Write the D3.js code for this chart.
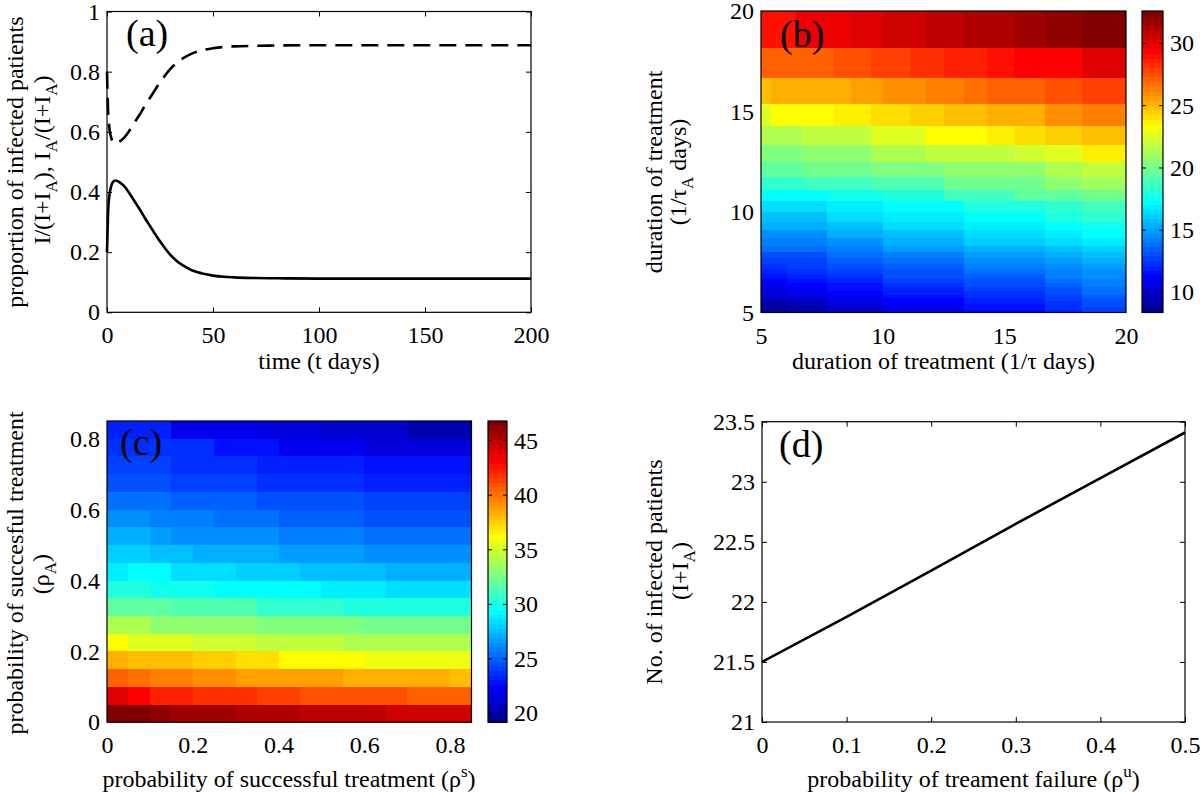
<!DOCTYPE html>
<html><head><meta charset="utf-8">
<script src="https://cdn.jsdelivr.net/npm/d3@7"></script>
<style>
body{margin:0;background:#fff}
svg{display:block}
text{font-family:"Liberation Serif","Times New Roman",serif;fill:#000}
</style>
</head><body>
<svg id="chart" width="1200" height="795"></svg>
<script>
// ---------------- DATA ----------------
// (a) proportion of infected patients over time
const timeDays = [0,0.5,1,2,3,4,5,6,8,10,12,14,16,18,20,22,24,26,28,30,33,36,40,45,50,55,60,70,80,100,150,200];
const propI    = [0.20,0.33,0.38,0.42,0.435,0.438,0.436,0.432,0.42,0.402,0.38,0.358,0.336,0.312,0.29,0.268,0.246,0.226,0.207,0.19,0.17,0.155,0.14,0.129,0.122,0.118,0.116,0.114,0.113,0.112,0.112,0.112];
const propIA   = [0.80,0.67,0.62,0.58,0.565,0.562,0.564,0.568,0.58,0.598,0.62,0.642,0.664,0.688,0.71,0.732,0.754,0.774,0.793,0.81,0.83,0.845,0.86,0.871,0.878,0.882,0.884,0.886,0.887,0.888,0.888,0.888];
const aXTicks = [0,50,100,150,200];
const aYTicks = [0,0.2,0.4,0.6,0.8,1];

// (b) grid nodes of tau and tau_A (rates); axes show 1/tau
const tauNodes = [0.05,0.055,0.06,0.065,0.07,0.075,0.08,0.085,0.09,0.095,0.1,0.105,0.11,0.115,0.12,0.125,0.13,0.135,0.14,0.145,0.15,0.155,0.16,0.165,0.17,0.175,0.18,0.185,0.19,0.195,0.2];
// rows: tau_A cell index (0 = 1/tau_A near 20), columns: tau cell index (0 = 1/tau near 20)
const heatB = [
[32.4,32.0,31.7,31.3,31.3,30.9,30.9,30.5,30.5,30.5,30.1,30.1,30.1,29.8,29.8,29.8,29.8,29.8,29.8,29.8,29.8,29.1,29.1,29.1,29.1,29.1,29.1,29.1,29.1,29.1],
[30.0,29.5,29.2,28.9,28.6,28.6,28.2,28.2,27.9,27.9,27.9,27.6,27.6,27.6,27.6,27.3,27.3,27.3,27.3,27.3,27.3,27.0,27.0,27.0,27.0,27.0,27.0,27.0,27.0,27.0],
[27.8,27.5,27.2,27.0,26.6,26.3,26.3,26.0,26.0,26.0,25.7,25.7,25.7,25.4,25.4,25.4,25.4,25.4,25.1,25.1,25.1,25.1,25.1,25.1,25.1,25.1,25.1,24.8,24.8,24.8],
[26.4,26.0,25.4,25.2,24.8,24.8,24.5,24.5,24.1,24.1,24.1,23.7,23.7,23.7,23.7,23.2,23.2,23.2,23.2,23.2,23.2,23.2,23.2,23.2,23.2,23.2,23.2,22.6,22.6,22.6],
[24.8,24.4,24.1,23.7,23.3,23.3,23.3,22.6,22.6,22.6,22.6,21.9,21.9,21.9,21.9,21.9,21.9,21.9,21.9,21.9,21.5,21.5,21.5,21.5,21.5,21.5,21.5,21.5,21.5,21.5],
[23.6,22.6,22.2,21.8,21.8,21.8,21.8,21.3,21.3,21.3,21.3,20.7,20.7,20.7,20.7,20.7,20.7,20.7,20.7,20.7,20.3,20.3,20.3,20.3,20.3,20.3,20.3,20.3,20.3,20.3],
[22.0,21.4,20.8,20.8,20.8,20.8,20.3,20.3,20.3,20.3,20.3,19.9,19.9,19.9,19.9,19.9,19.9,19.9,19.9,19.9,19.5,19.5,19.5,19.5,19.5,19.5,19.5,19.5,19.5,19.5],
[21.2,20.5,19.9,19.9,19.9,19.9,19.3,19.3,19.3,19.3,19.3,18.8,18.8,18.8,18.8,18.8,18.8,18.8,18.8,18.8,18.4,18.4,18.4,18.4,18.4,18.4,18.4,18.4,18.4,18.4],
[20.0,19.5,19.5,18.8,18.8,18.8,18.1,18.1,18.1,18.1,17.6,17.6,17.6,17.6,17.6,17.6,17.3,17.3,17.3,17.3,17.3,17.3,17.3,17.3,17.3,17.3,17.3,17.3,17.3,17.3],
[18.8,18.4,17.9,17.9,17.9,17.3,17.3,17.3,17.3,17.3,17.0,17.0,17.0,17.0,17.0,17.0,16.6,16.6,16.6,16.6,16.6,16.6,16.6,16.6,16.6,16.6,16.6,16.6,16.6,16.6],
[18.4,17.9,17.4,17.4,17.4,16.9,16.9,16.9,16.9,16.9,16.4,16.4,16.4,16.4,16.4,16.4,15.9,15.9,15.9,15.9,15.9,15.9,15.9,15.9,15.9,15.9,15.9,15.9,15.9,15.9],
[17.8,17.3,17.0,17.0,17.0,16.4,16.4,16.4,16.4,16.4,15.9,15.9,15.9,15.9,15.9,15.9,15.4,15.4,15.4,15.4,15.4,15.4,15.4,15.4,15.4,15.4,15.4,15.4,15.4,15.4],
[17.3,16.9,16.5,16.5,16.5,15.9,15.9,15.9,15.9,15.9,15.3,15.3,15.3,15.3,15.3,15.3,14.8,14.8,14.8,14.8,14.8,14.8,14.8,14.8,14.8,14.8,14.8,14.8,14.8,14.8],
[16.8,16.4,16.0,16.0,16.0,15.4,15.4,15.4,15.4,15.4,14.8,14.8,14.8,14.8,14.8,14.8,14.3,14.3,14.3,14.3,14.3,14.3,14.3,14.3,14.3,14.3,14.3,14.3,14.3,14.3],
[16.3,15.9,15.5,15.5,15.5,14.9,14.9,14.9,14.9,14.9,14.3,14.3,14.3,14.3,14.3,14.3,13.8,13.8,13.8,13.8,13.8,13.8,13.8,13.8,13.8,13.8,13.8,13.8,13.8,13.8],
[15.8,15.4,15.0,15.0,15.0,14.4,14.4,14.4,14.4,14.4,13.8,13.8,13.8,13.8,13.8,13.8,13.3,13.3,13.3,13.3,13.3,13.3,13.3,13.3,13.3,13.3,13.3,13.3,13.3,13.3],
[15.4,15.0,14.6,14.6,14.6,14.0,14.0,14.0,14.0,14.0,13.4,13.4,13.4,13.4,13.4,13.4,12.9,12.9,12.9,12.9,12.9,12.9,12.9,12.7,12.7,12.7,12.7,12.7,12.7,12.7],
[15.1,14.7,14.2,14.2,14.2,13.6,13.6,13.6,13.6,13.6,13.0,13.0,13.0,13.0,13.0,13.0,12.6,12.6,12.6,12.6,12.6,12.6,12.6,12.3,12.3,12.3,12.3,12.3,12.3,12.3],
[14.8,14.4,13.9,13.9,13.9,13.3,13.3,13.3,13.3,13.3,12.7,12.7,12.7,12.7,12.7,12.7,12.2,12.2,12.2,12.2,12.2,12.2,12.2,12.0,12.0,12.0,12.0,12.0,12.0,12.0],
[14.6,14.1,13.6,13.6,13.6,13.0,13.0,13.0,13.0,13.0,12.4,12.4,12.4,12.4,12.4,12.4,11.9,11.9,11.9,11.9,11.9,11.9,11.9,11.6,11.6,11.6,11.6,11.6,11.6,11.6],
[14.3,13.8,13.3,13.3,13.3,12.7,12.7,12.7,12.7,12.7,12.1,12.1,12.1,12.1,12.1,12.1,11.6,11.6,11.6,11.6,11.6,11.6,11.6,11.3,11.3,11.3,11.3,11.3,11.3,11.3],
[14.1,13.6,13.0,13.0,13.0,12.4,12.4,12.4,12.4,12.4,11.8,11.8,11.8,11.8,11.8,11.8,11.3,11.3,11.3,11.3,11.3,11.3,11.3,11.0,11.0,11.0,11.0,11.0,11.0,11.0],
[13.9,13.3,12.8,12.8,12.8,12.1,12.1,12.1,12.1,12.1,11.5,11.5,11.5,11.5,11.5,11.5,11.0,11.0,11.0,11.0,11.0,11.0,11.0,10.6,10.6,10.6,10.6,10.6,10.6,10.6],
[13.7,13.1,12.5,12.5,12.5,11.9,11.9,11.9,11.9,11.9,11.2,11.2,11.2,11.2,11.2,11.2,10.7,10.7,10.7,10.7,10.7,10.7,10.7,10.3,10.3,10.3,10.3,10.3,10.3,10.3],
[13.5,12.9,12.3,12.3,12.3,11.6,11.6,11.6,11.6,11.6,10.9,10.9,10.9,10.9,10.9,10.9,10.4,10.4,10.4,10.4,10.4,10.4,10.4,10.0,10.0,10.0,10.0,10.0,10.0,10.0],
[13.3,12.7,12.1,12.1,12.1,11.4,11.4,11.4,11.4,11.4,10.7,10.7,10.7,10.7,10.7,10.7,10.1,10.1,10.1,10.1,10.1,10.1,10.1,9.7,9.7,9.7,9.7,9.7,9.7,9.7],
[13.2,12.5,11.9,11.9,11.9,11.2,11.2,11.2,11.2,11.2,10.4,10.4,10.4,10.4,10.4,10.4,9.8,9.8,9.8,9.8,9.8,9.8,9.8,9.4,9.4,9.4,9.4,9.4,9.4,9.4],
[13.0,12.3,11.7,11.7,11.7,11.0,11.0,11.0,11.0,11.0,10.2,10.2,10.2,10.2,10.2,10.2,9.5,9.5,9.5,9.5,9.5,9.5,9.5,9.1,9.1,9.1,9.1,9.1,9.1,9.1],
[12.9,12.2,11.5,11.5,11.5,10.8,10.8,10.8,10.8,10.8,10.0,10.0,10.0,10.0,10.0,10.0,9.3,9.3,9.3,9.3,9.3,9.3,9.3,8.9,8.9,8.9,8.9,8.9,8.9,8.9],
[12.8,12.0,11.3,11.3,11.3,10.6,10.6,10.6,10.6,10.6,9.8,9.8,9.8,9.8,9.8,9.8,9.0,9.0,9.0,9.0,9.0,9.0,9.0,8.6,8.6,8.6,8.6,8.6,8.6,8.6]
];
const bColorRange = [8.4, 32.6];
const bColorTicks = [10,15,20,25,30];
const bAxisTicks = [5,10,15,20];

// (c) grid nodes for rho^s (x) and rho_A (y)
const rhoNodes = [0,0.05,0.1,0.15,0.2,0.25,0.3,0.35,0.4,0.45,0.5,0.55,0.6,0.65,0.7,0.75,0.8,0.85];
// rows: rho_A cell index from bottom (0 -> 0..0.05); columns: rho^s cell index from left
const heatC = [
[46.6,46.6,46.1,45.7,45.7,45.7,45.3,45.3,45.3,44.8,44.8,44.8,44.8,44.4,44.4,44.4,44.4],
[44.0,43.1,42.3,42.3,41.8,41.8,41.8,41.4,41.4,41.0,41.0,41.0,41.0,41.0,40.5,40.5,40.5],
[40.5,40.1,39.7,39.7,39.2,39.2,38.8,38.8,38.8,38.8,38.8,38.4,38.4,38.4,38.4,38.4,37.9],
[38.4,37.9,37.9,37.9,37.5,37.5,37.1,37.1,36.2,36.2,36.2,36.2,35.8,35.8,35.8,35.8,35.8],
[36.2,35.4,35.4,35.4,35.0,35.0,35.0,34.5,34.5,34.5,34.5,34.1,34.1,34.1,34.1,34.1,34.1],
[34.1,34.1,33.2,33.2,33.2,33.2,33.2,32.8,32.8,32.8,32.8,32.8,32.4,32.4,32.4,32.4,32.4],
[31.9,31.9,31.9,31.5,31.5,31.5,31.5,30.6,30.6,30.6,30.6,30.2,30.2,30.2,30.2,30.2,30.2],
[30.2,30.2,29.8,29.8,29.8,29.3,29.3,29.3,29.3,29.3,28.9,28.9,28.9,28.5,28.5,28.5,28.5],
[28.9,29.3,29.3,28.5,28.5,28.5,28.0,28.0,28.0,27.6,27.6,27.6,27.6,27.2,27.2,27.2,27.2],
[28.0,28.0,27.6,27.6,27.2,27.2,27.2,27.2,26.7,26.7,26.7,26.7,26.3,26.3,26.3,26.3,26.3],
[27.2,27.2,26.7,26.3,26.3,26.3,26.3,26.3,25.9,25.9,25.9,25.9,25.5,25.5,25.5,25.5,25.5],
[26.3,26.3,25.9,25.9,25.9,25.5,25.5,25.5,25.0,25.0,25.0,25.0,24.6,24.6,24.6,24.6,24.6],
[25.5,25.5,25.5,25.0,25.0,25.0,25.0,24.6,24.6,24.6,24.6,24.6,24.2,24.2,24.2,24.2,24.2],
[24.6,24.6,24.6,24.2,24.2,24.2,24.2,23.7,23.7,23.7,23.7,23.7,23.5,23.5,23.5,23.5,23.5],
[24.2,24.2,24.2,23.7,23.7,23.7,23.7,23.3,23.3,23.3,23.3,23.3,22.9,22.9,22.9,22.9,22.9],
[23.7,23.7,23.7,23.7,23.7,22.9,22.9,22.9,22.0,22.0,22.0,22.0,21.6,21.6,21.6,21.6,21.6],
[23.3,23.3,23.3,22.0,22.0,22.0,22.0,21.6,21.6,21.6,21.1,21.1,21.1,21.1,20.3,20.3,20.3]
];
const cColorRange = [19.2, 46.8];
const cColorTicks = [20,25,30,35,40,45];
const cAxisTicks = [0,0.2,0.4,0.6,0.8];

// (d) number of infected patients vs probability of treatment failure
const rhoU = [0,0.1,0.2,0.3,0.4,0.5];
const infectedD = [21.5,21.875,22.26,22.65,23.03,23.41];
const dXTicks = [0,0.1,0.2,0.3,0.4,0.5];
const dYTicks = [21,21.5,22,22.5,23,23.5];

// ---------------- DRAWING ----------------
const svg = d3.select("#chart");
const FS = 24;
const fmt = d3.format("~g");

// MATLAB jet(64)
function jetColor(k){
  let r,g,b;
  if(k<=8){r=0;g=0;b=(8+k)/16;}
  else if(k<=24){r=0;g=(k-8)/16;b=1;}
  else if(k<=40){r=(k-24)/16;g=1;b=(40-k)/16;}
  else if(k<=56){r=1;g=(56-k)/16;b=0;}
  else {r=(72-k)/16;g=0;b=0;}
  return d3.rgb(Math.round(r*255),Math.round(g*255),Math.round(b*255)).toString();
}
const jetColors = d3.range(1,65).map(jetColor);

function frame(x0,y0,x1,y1){
  svg.append("rect").attr("x",x0).attr("y",y0).attr("width",x1-x0).attr("height",y1-y0)
    .attr("fill","none").attr("stroke","#000").attr("stroke-width",1.2);
}

function styleAxis(g){
  g.attr("font-size",FS).attr("font-family",'"Liberation Serif","Times New Roman",serif');
  g.select(".domain").remove();
  g.selectAll(".tick line").attr("stroke","#000").attr("stroke-width",1);
  g.selectAll(".tick text").attr("fill","#000");
}

function drawAxes(xs, ys, xt, yt, tick){
  const [x0,x1]=xs.range(); const [yb,yt0]=ys.range();
  const ts = tick ? -5 : 0;
  svg.append("g").attr("transform",`translate(0,${yb})`)
    .call(d3.axisBottom(xs).tickValues(xt).tickFormat(fmt).tickSizeInner(ts).tickSizeOuter(0).tickPadding(14)).call(styleAxis);
  svg.append("g").attr("transform",`translate(${x0},0)`)
    .call(d3.axisLeft(ys).tickValues(yt).tickFormat(fmt).tickSizeInner(ts).tickSizeOuter(0).tickPadding(7)).call(styleAxis);
  if(tick){
    svg.append("g").attr("transform",`translate(0,${yt0})`)
      .call(d3.axisTop(xs).tickValues(xt).tickFormat("").tickSizeInner(-5).tickSizeOuter(0)).call(styleAxis);
    svg.append("g").attr("transform",`translate(${x1},0)`)
      .call(d3.axisRight(ys).tickValues(yt).tickFormat("").tickSizeInner(-5).tickSizeOuter(0)).call(styleAxis);
  }
  frame(x0,yt0,x1,yb);
}

// rich text: parts = [[text, mode]], mode: "" | "sub" | "sup"
function richText(x,y,rot,parts,opt={}){
  const t = svg.append("text").attr("transform",`translate(${x},${y})${rot?` rotate(${rot})`:""}`)
    .attr("text-anchor",opt.anchor||"middle").attr("font-size",opt.size||FS);
  let cur=0;
  parts.forEach(([s,m])=>{
    const target = m==="sub"?7:(m==="sup"?-10:0);
    const ts = t.append("tspan").text(s).attr("dy",target-cur);
    if(m) ts.attr("font-size",17);
    cur=target;
  });
  return t;
}

function colorbar(x0,x1,yb,yt,range,ticks){
  const s = d3.scaleLinear().domain(range).range([yb,yt]);
  const q = d3.scaleQuantize().domain(range).range(jetColors);
  const step=(range[1]-range[0])/64;
  const bands = d3.range(64).map(i=>range[0]+i*step);
  svg.append("g").selectAll("rect").data(bands).join("rect")
    .attr("x",x0).attr("width",x1-x0)
    .attr("y",d=>s(d+step)).attr("height",d=>s(d)-s(d+step)+0.5)
    .attr("fill",d=>q(d+step/2)).attr("shape-rendering","crispEdges");
  const g = svg.append("g");
  ticks.forEach(v=>{
    g.append("line").attr("x1",x0).attr("x2",x0+4).attr("y1",s(v)).attr("y2",s(v)).attr("stroke","#000");
    g.append("line").attr("x1",x1-4).attr("x2",x1).attr("y1",s(v)).attr("y2",s(v)).attr("stroke","#000");
    g.append("text").attr("x",x1+7).attr("y",s(v)).attr("dy","0.33em").attr("font-size",FS).text(fmt(v));
  });
  frame(x0,yt,x1,yb);
}

// ----- Panel (a)
const xA = d3.scaleLinear().domain([0,200]).range([107,531]);
const yA = d3.scaleLinear().domain([0,1]).range([312.3,11.5]);
const lineA = (vals)=>d3.line().x((d,i)=>xA(timeDays[i])).y(d=>yA(d)).curve(d3.curveMonotoneX)(vals);
svg.append("path").attr("d",lineA(propIA)).attr("fill","none").attr("stroke","#000").attr("stroke-width",2.6).attr("stroke-dasharray","17,9");
svg.append("path").attr("d",lineA(propI)).attr("fill","none").attr("stroke","#000").attr("stroke-width",2.6);
drawAxes(xA,yA,aXTicks,aYTicks,true);
richText(126,46,0,[["(a)",""]],{anchor:"start",size:38});
richText(319,369,0,[["time (t days)",""]]);
richText(23,162,-90,[["proportion of infected patients",""]]);
richText(50,160,-90,[["I/(I+I",""],["A","sub"],["), I",""],["A","sub"],["/(I+I",""],["A","sub"],[")",""]]);

// ----- Panel (b)
const xB = d3.scaleLinear().domain([5,20]).range([761,1126]);
const yB = d3.scaleLinear().domain([5,20]).range([312.5,11]);
const qB = d3.scaleQuantize().domain(bColorRange).range(jetColors);
const cellsB = [];
heatB.forEach((row,j)=>row.forEach((v,c)=>cellsB.push({j,c,v})));
svg.append("g").selectAll("rect").data(cellsB).join("rect")
  .attr("x",d=>xB(1/tauNodes[d.c+1])).attr("width",d=>xB(1/tauNodes[d.c])-xB(1/tauNodes[d.c+1]))
  .attr("y",d=>yB(1/tauNodes[d.j])).attr("height",d=>yB(1/tauNodes[d.j+1])-yB(1/tauNodes[d.j]))
  .attr("fill",d=>qB(d.v)).attr("shape-rendering","crispEdges");
drawAxes(xB,yB,bAxisTicks,bAxisTicks,false);
colorbar(1142,1163,312.5,11,bColorRange,bColorTicks);
richText(780,47,0,[["(b)",""]],{anchor:"start",size:38});
richText(943.5,369,0,[["duration of treatment (1/τ days)",""]]);
richText(662,172,-90,[["duration of treatment",""]]);
richText(686,172,-90,[["(1/τ",""],["A","sub"],[" days)",""]]);

// ----- Panel (c)
const xC = d3.scaleLinear().domain([0,0.85]).range([107,471.5]);
const yC = d3.scaleLinear().domain([0,0.85]).range([722.3,421]);
const qC = d3.scaleQuantize().domain(cColorRange).range(jetColors);
const cellsC = [];
heatC.forEach((row,r)=>row.forEach((v,c)=>cellsC.push({r,c,v})));
svg.append("g").selectAll("rect").data(cellsC).join("rect")
  .attr("x",d=>xC(rhoNodes[d.c])).attr("width",d=>xC(rhoNodes[d.c+1])-xC(rhoNodes[d.c]))
  .attr("y",d=>yC(rhoNodes[d.r+1])).attr("height",d=>yC(rhoNodes[d.r])-yC(rhoNodes[d.r+1]))
  .attr("fill",d=>qC(d.v)).attr("shape-rendering","crispEdges");
drawAxes(xC,yC,cAxisTicks,cAxisTicks,false);
colorbar(488,507,722.3,421,cColorRange,cColorTicks);
richText(120,455,0,[["(c)",""]],{anchor:"start",size:38});
richText(289,787,0,[["probability of successful treatment (ρ",""],["s","sup"],[")",""]]);
richText(23,573,-90,[["probability of succesful treatment",""]]);
richText(49,574,-90,[["(ρ",""],["A","sub"],[")",""]]);

// ----- Panel (d)
const xD = d3.scaleLinear().domain([0,0.5]).range([762,1185]);
const yD = d3.scaleLinear().domain([21,23.5]).range([722,421.7]);
svg.append("path").attr("d",d3.line().x((d,i)=>xD(rhoU[i])).y(d=>yD(d))(infectedD))
  .attr("fill","none").attr("stroke","#000").attr("stroke-width",2.6);
drawAxes(xD,yD,dXTicks,dYTicks,true);
richText(779,457,0,[["(d)",""]],{anchor:"start",size:38});
richText(973.5,787,0,[["probability of treament failure (ρ",""],["u","sup"],[")",""]]);
richText(662,572,-90,[["No. of infected patients",""]]);
richText(688,571,-90,[["(I+I",""],["A","sub"],[")",""]]);
</script>
</body></html>
